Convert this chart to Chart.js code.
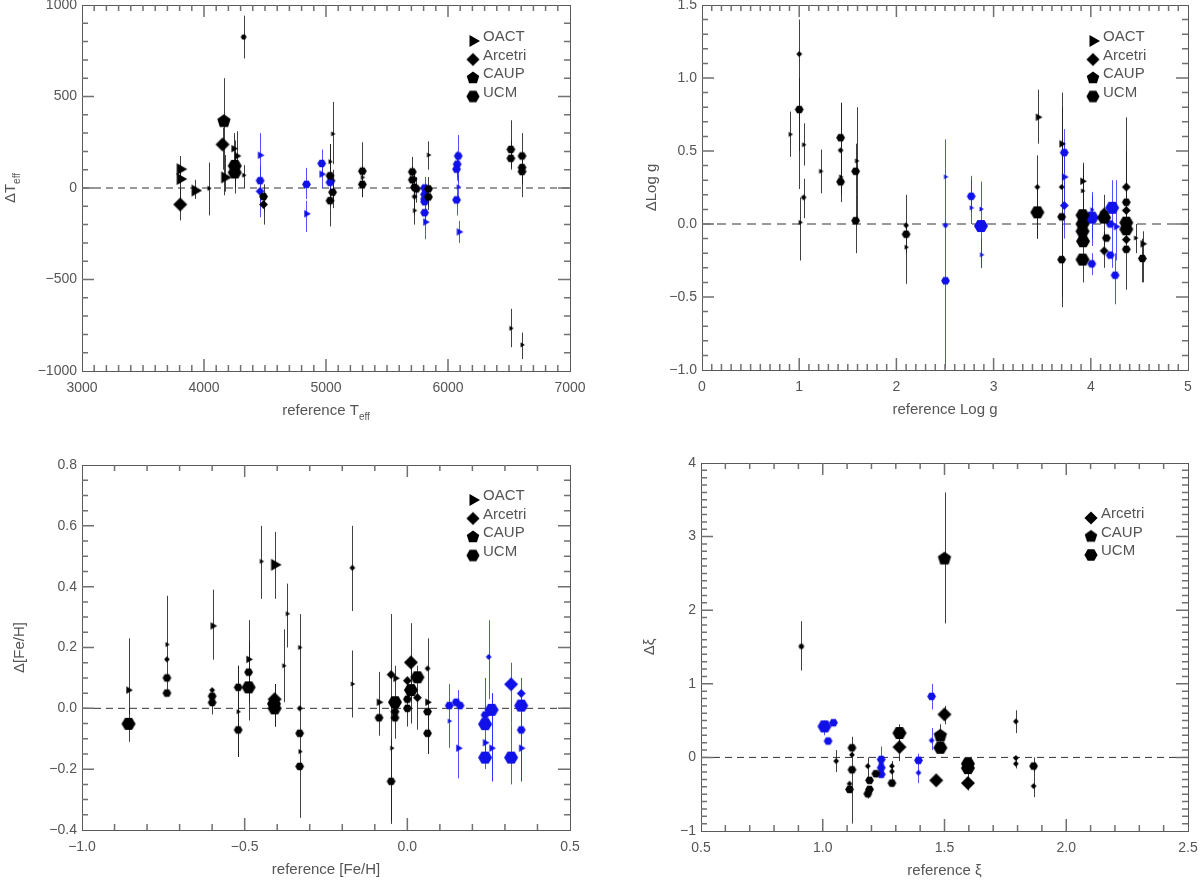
<!DOCTYPE html>
<html>
<head>
<meta charset="utf-8">
<script src="https://cdn.jsdelivr.net/npm/chart.js@4.4.1/dist/chart.umd.min.js"></script>
<style>
  body { margin: 0; background: #fff; }
  .panel { position: absolute; width: 600px; height: 440px; }
</style>
</head>
<body>
<div class="panel" style="left:0;top:0"><canvas id="teff" width="600" height="440"></canvas></div>
<div class="panel" style="left:600px;top:0"><canvas id="logg" width="600" height="440"></canvas></div>
<div class="panel" style="left:0;top:440px"><canvas id="feh" width="600" height="440"></canvas></div>
<div class="panel" style="left:600px;top:440px"><canvas id="vt" width="600" height="440"></canvas></div>
<script>
// rows are [reference value, difference, error bar low, error bar high]
// size arrays: 1 small, 2 medium, 3 large marker

// ---- Teff panel ----
const teffXTicks = [3000, 4000, 5000, 6000, 7000];
const teffXLabels = ['3000', '4000', '5000', '6000', '7000'];
const teffYTicks = [-1000, -500, 0, 500, 1000];
const teffYLabels = ['\u22121000', '\u2212500', '0', '500', '1000'];

const teffOactBlack = [[3805,103,20,175],[3805,49,-60,120],[3927,-14,-60,45],[4040,-2,-150,139],[4170,58,-20,180],
  [4243,215,95,300],[4271,175,60,310],[4325,70,0,125],[5033,144,50,240],[5054,296,130,470],
  [5298,58,-10,120],[5725,-123,-200,-40],[5840,180,100,255],[6515,-767,-870,-660],[6607,-857,-935,-790]];
const teffOactBlackSize = [3,3,3,1,3,2,2,1,1,1,1,1,1,1,1];
const teffOactBlue = [[4460,179,30,300],[4840,-141,-240,-70],[4965,76,0,140],[5815,-186,-280,-100],[6084,7,-50,70],[6090,-240,-300,-180]];
const teffOactBlueSize = [2,2,2,2,1,2];
const teffArcBlack = [[3805,-90,-177,0],[4152,238,100,330],[4488,-90,-200,-30],[5054,40,-60,100],[5725,49,0,100],[5725,-47,-150,0]];
const teffArcBlackSize = [3,3,2,1,1,1];
const teffArcBlue = [[4460,-18,-80,30]];
const teffArcBlueSize = [2];
const teffCaupBlack = [[4163,365,-40,600]];
const teffCaupBlackSize = [3];
const teffUcmBlack = [[4252,121,0,260],[4252,85,-30,200],[4325,825,708,942],[4488,-47,-130,20],[5033,67,-100,240],
  [5033,-69,-210,0],[5054,-23,-110,60],[5298,92,-50,250],[5298,20,-50,80],[5707,88,0,170],[5707,45,-10,120],
  [5725,4,-100,100],[5740,-5,-80,60],[5840,-5,-100,60],[5840,-49,-120,0],[6515,211,110,370],[6515,162,100,260],
  [6607,175,80,300],[6607,112,20,180],[6607,90,-50,150]];
const teffUcmBlackSize = [3,3,1,2,2,2,2,2,2,2,2,2,2,2,2,2,2,2,2,2];
const teffUcmBlue = [[4460,40,-160,120],[4840,20,-60,110],[4965,134,60,210],[5033,31,-30,100],[5808,0,-80,60],
  [5808,-35],[5808,-60],[5808,-75],[5808,-135,-200,-60],[6084,175,30,290],[6075,130,60,200],[6070,103,40,180],[6070,-65,-150,0]];
const teffUcmBlueSize = [2,2,2,2,2,2,2,2,2,2,2,2,2];

// ---- log g panel ----
const loggXTicks = [0, 1, 2, 3, 4, 5];
const loggXLabels = ['0', '1', '2', '3', '4', '5'];
const loggYTicks = [-1, -0.5, 0, 0.5, 1, 1.5];
const loggYLabels = ['\u22121.0', '\u22120.5', '0.0', '0.5', '1.0', '1.5'];

const loggOactBlack = [[0.907,0.614,0.46,0.77],[1.045,0.543,0.40,0.69],[1.01,0.011,-0.25,0.18],[1.22,0.361,0.21,0.51],
  [1.426,0.323,0.15,0.50],[1.59,0.432,0.02,0.80],[2.10,-0.159,-0.41,0.0],[3.457,0.732,0.55,0.92],[3.70,0.549,0.30,0.80],
  [3.915,0.293,0.10,0.42],[3.915,0.227,0.05,0.35],[4.46,-0.096,-0.2,0.0],[4.535,-0.136,-0.4,-0.05]];
const loggOactBlackSize = [1,1,1,1,1,1,1,2,2,2,1,1,2];
const loggOactBlue = [[2.505,0.323,-0.99,0.58],[2.77,0.111,0.0,0.3],[2.87,0.102,-0.3,0.29],[2.875,-0.211,-0.3,-0.1],
  [3.727,0.322,0.1,0.55],[4.01,0.098,-0.15,0.2],[4.26,-0.018,-0.25,0.3]];
const loggOactBlueSize = [1,1,1,1,2,1,2];
const loggArcBlack = [[1.0,1.164,0.24,1.4],[1.045,0.182,0.04,0.31],[1.426,0.505,0.2,0.83],[2.10,-0.009,-0.2,0.2],
  [3.45,0.253,-0.1,0.47],[3.70,0.253,-0.5,0.9],[4.137,0.082,-0.15,0.2],[4.137,-0.184,-0.3,-0.05],
  [4.365,0.253,-0.1,0.5],[4.365,0.093],[4.365,-0.107]];
const loggArcBlackSize = [1,1,1,1,1,1,2,2,2,2,2];
const loggArcBlue = [[2.505,-0.009],[3.727,0.127,-0.1,0.3]];
const loggArcBlueSize = [1,2];
const loggUcmBlack = [[1.0,0.784,0.5,1.0],[1.426,0.591,0.3,0.83],[1.426,0.289],[1.58,0.361,0.2,0.55],[1.58,0.023,-0.2,0.2],
  [2.10,-0.07],[3.45,0.08,-0.1,0.25],[3.70,0.049],[3.70,-0.244,-0.57,0.0],[3.915,0.06],[3.915,0.0],[3.915,-0.05],
  [3.92,-0.118],[3.915,-0.244,-0.4,0.4],[4.137,0.044],[4.16,-0.096],[4.365,0.149],[4.365,0.009],[4.365,-0.036],
  [4.365,-0.173,-0.45,0.73],[4.53,-0.236,-0.4,-0.1]];
const loggUcmBlackSize = [2,2,2,2,2,2,3,2,2,3,3,3,3,3,3,2,2,3,3,2,2];
const loggUcmBlue = [[2.505,-0.389],[2.77,0.19,0.08,0.33],[2.87,-0.014],[3.727,0.489,0.35,0.65],[4.01,0.044,-0.1,0.22],
  [4.01,-0.273,-0.35,-0.2],[4.22,0.111,-0.3,0.3],[4.20,0.0],[4.20,-0.213],[4.25,-0.351,-0.55,-0.2]];
const loggUcmBlueSize = [2,2,3,2,3,2,3,2,2,2];

// ---- [Fe/H] panel ----
const fehXTicks = [-1, -0.5, 0, 0.5];
const fehXLabels = ['\u22121.0', '\u22120.5', '0.0', '0.5'];
const fehYTicks = [-0.4, -0.2, 0, 0.2, 0.4, 0.6, 0.8];
const fehYLabels = ['\u22120.4', '\u22120.2', '0.0', '0.2', '0.4', '0.6', '0.8'];

const fehOactBlack = [[-0.857,0.06,-0.02,0.23],[-0.739,0.21,0.05,0.37],[-0.598,0.271,0.16,0.39],[-0.52,-0.011,-0.16,0.14],
  [-0.488,0.161,0.02,0.29],[-0.449,0.483,0.36,0.60],[-0.408,0.472,0.36,0.58],[-0.369,0.311,0.2,0.41],[-0.38,0.14,0.02,0.26],
  [-0.331,0.20,0.07,0.31],[-0.33,-0.142],[-0.169,0.08,-0.03,0.19],[-0.087,0.02,-0.09,0.12],[-0.036,0.099],[-0.048,-0.131],[0.062,0.02]];
const fehOactBlackSize = [2,1,2,1,2,1,3,1,1,1,1,1,2,2,1,2];
const fehOactBlue = [[0.129,-0.042],[0.157,-0.131,-0.23,0.06],[0.239,-0.113],[0.259,-0.131,-0.24,0.05],[0.35,-0.131,-0.24,0.06]];
const fehOactBlueSize = [1,2,2,2,2];
const fehArcBlack = [[-0.739,0.161],[-0.6,0.06],[-0.408,0.03,-0.06,0.08],[-0.331,0.0,-0.36,0.07],[-0.169,0.462,0.32,0.6],
  [-0.05,0.111,-0.38,0.31],[0.011,0.151,0.03,0.28],[0.0,0.091],[0.031,0.035],[0.062,0.131,-0.15,0.23]];
const fehArcBlackSize = [1,1,3,1,1,2,3,2,2,1];
const fehArcBlue = [[0.25,0.169,0.03,0.29],[0.319,0.079,-0.05,0.15],[0.35,0.049]];
const fehArcBlueSize = [1,3,2];
const fehUcmBlack = [[-0.857,-0.051,-0.11,0.0],[-0.739,0.10],[-0.739,0.05],[-0.6,0.04],[-0.6,0.019,-0.02,0.06],
  [-0.52,0.069,-0.16,0.14],[-0.52,-0.071],[-0.488,0.119],[-0.488,0.069,-0.04,0.22],[-0.408,0.0,-0.06,0.08],[-0.41,0.015],
  [-0.331,-0.082],[-0.331,-0.191],[-0.087,-0.031],[-0.038,0.02,-0.1,0.14],[-0.038,-0.011],[-0.038,-0.031],
  [-0.05,-0.24,-0.37,-0.1],[0.011,0.06,-0.05,0.14],[0.0,0.03],[0.0,0.0,-0.06,0.06],[0.031,0.102,-0.07,0.14],
  [0.062,-0.011],[0.062,-0.082,-0.15,0.0]];
const fehUcmBlackSize = [3,2,2,2,2,2,2,2,3,3,3,2,2,2,3,2,2,2,3,2,2,3,2,2];
const fehUcmBlue = [[0.129,0.009,-0.13,0.08],[0.15,0.02],[0.162,0.009],[0.239,-0.022,-0.18,0.1],[0.239,-0.052],
  [0.239,-0.162,-0.2,-0.1],[0.259,-0.005,-0.24,0.05],[0.319,-0.162,-0.25,-0.05],[0.35,0.009,-0.24,0.1],[0.35,-0.071]];
const fehUcmBlueSize = [2,2,2,2,3,3,3,3,3,2];

// ---- microturbulence panel ----
const vtXTicks = [0.5, 1, 1.5, 2, 2.5];
const vtXLabels = ['0.5', '1.0', '1.5', '2.0', '2.5'];
const vtYTicks = [-1, 0, 1, 2, 3, 4];
const vtYLabels = ['\u22121', '0', '1', '2', '3', '4'];

const vtArcBlack = [[1.055,-0.05,-0.2,0.1],[1.12,0.036],[1.11,-0.358],[1.185,-0.118,-0.3,0.0],[1.284,-0.118],[1.284,-0.19],
  [1.315,0.14,-0.05,0.3],[1.466,-0.312],[1.5,0.584,0.45,0.7],[1.596,-0.349,-0.45,-0.2],[1.793,0.489,0.33,0.64],
  [1.793,-0.009],[1.793,-0.086,-0.15,0],[1.866,-0.39,-0.54,-0.1]];
const vtArcBlackSize = [1,1,1,1,1,1,3,3,3,3,1,1,1,1];
const vtArcBlue = [[1.24,-0.09],[1.393,-0.208,-0.35,-0.05],[1.447,0.231,0.1,0.4]];
const vtArcBlueSize = [1,1,1];
const vtCaupBlack = [[1.5,2.7,1.82,3.6],[1.483,0.294,0.15,0.45]];
const vtCaupBlackSize = [3,3];
const vtUcmBlack = [[0.912,1.508,1.18,1.85],[1.12,0.131,-0.9,0.28],[1.12,-0.168],[1.11,-0.435],[1.192,-0.312],
  [1.192,-0.435],[1.185,-0.494,-0.56,-0.4],[1.218,-0.222],[1.284,-0.349,-0.4,-0.05],[1.315,0.331,0.2,0.45],
  [1.483,0.131],[1.596,-0.086],[1.596,-0.145],[1.866,-0.118,-0.2,0.0]];
const vtUcmBlackSize = [1,2,2,2,2,2,2,2,2,3,3,3,3,2];
const vtUcmBlue = [[1.007,0.421,0.3,0.5],[1.044,0.471],[1.022,0.222],[1.24,-0.027,-0.15,0.15],[1.24,-0.14],[1.24,-0.23],
  [1.393,-0.04,-0.1,0.05],[1.447,0.829,0.65,1.0]];
const vtUcmBlueSize = [3,2,2,2,2,2,2,2];

const BLACK = '#000000';
const BLUE = '#1010e8';
const radius = { 1: 2.9, 2: 4.4, 3: 7 };

// polygon markers drawn once into small canvases
function shapeCanvas(kind, r, color) {
    const c = document.createElement('canvas');
    const s = Math.ceil(2 * r + 2);
    c.width = s; c.height = s;
    const g = c.getContext('2d');
    g.translate(s / 2, s / 2);
    g.fillStyle = color;
    let n = 6, a0 = 0;
    if (kind === 'tri') { n = 3; }
    else if (kind === 'dia') { n = 4; }
    else if (kind === 'pent') { n = 5; a0 = -Math.PI / 2; }
    g.beginPath();
    for (let i = 0; i < n; i++) {
        const a = a0 + i * 2 * Math.PI / n;
        g.lineTo(r * Math.cos(a), r * Math.sin(a));
    }
    g.closePath();
    g.fill();
    return c;
}

const shapeCache = {};
function getShape(kind, r, color) {
    const key = kind + r + color;
    if (!shapeCache[key]) shapeCache[key] = shapeCanvas(kind, r, color);
    return shapeCache[key];
}

function makeDataset(rows, sizes, kind, color) {
    return {
        data: rows.map(r => ({ x: r[0], y: r[1], lo: r[2], hi: r[3] })),
        pointStyle: ctx => getShape(kind, radius[sizes[ctx.dataIndex]] || 3, color),
        pointRadius: 4,
        showLine: false,
        errColor: color === BLUE ? 'rgba(40,40,255,0.8)' : 'rgba(30,30,30,0.85)'
    };
}

function drawText(ctx, parts, x, y, rotate) {
    ctx.save();
    ctx.translate(x, y);
    if (rotate) ctx.rotate(-Math.PI / 2);
    ctx.fillStyle = '#555';
    ctx.textBaseline = 'middle';
    ctx.textAlign = 'left';
    let total = 0;
    parts.forEach(part => {
        ctx.font = (part.sub ? '10px' : '15px') + ' "Liberation Sans", Arial, sans-serif';
        total += ctx.measureText(part.t).width;
    });
    let cx = -total / 2;
    parts.forEach(part => {
        ctx.font = (part.sub ? '10px' : '15px') + ' "Liberation Sans", Arial, sans-serif';
        ctx.fillText(part.t, cx, part.sub ? 6 : 0);
        cx += ctx.measureText(part.t).width;
    });
    ctx.restore();
}

function createPanel(id, p) {
    const ctx = document.getElementById(id).getContext('2d');

    const panelPlugin = {
        id: 'panelDecor',
        beforeDatasetsDraw(chart) {
            const c = chart.ctx, a = chart.chartArea;
            const xs = chart.scales.x, ys = chart.scales.y;
            c.save();
            c.beginPath();
            c.rect(a.left, a.top, a.right - a.left, a.bottom - a.top);
            c.clip();
            // zero line
            const y0 = ys.getPixelForValue(0);
            c.strokeStyle = p.zero.color;
            c.lineWidth = p.zero.width;
            c.setLineDash(p.zero.dash);
            c.beginPath();
            c.moveTo(a.left, y0);
            c.lineTo(a.right, y0);
            c.stroke();
            c.setLineDash([]);
            // error bars
            c.lineWidth = 1;
            chart.data.datasets.forEach(ds => {
                c.strokeStyle = ds.errColor;
                ds.data.forEach(pt => {
                    if (pt.lo === undefined) return;
                    const px = Math.round(xs.getPixelForValue(pt.x)) + 0.5;
                    c.beginPath();
                    c.moveTo(px, ys.getPixelForValue(pt.lo));
                    c.lineTo(px, ys.getPixelForValue(pt.hi));
                    c.stroke();
                });
            });
            c.restore();
        },
        afterDraw(chart) {
            const c = chart.ctx, a = chart.chartArea;
            const xs = chart.scales.x, ys = chart.scales.y;
            c.save();
            c.strokeStyle = '#5a5a5a';
            c.lineWidth = 1;
            c.strokeRect(Math.round(a.left) + 0.5, Math.round(a.top) + 0.5,
                Math.round(a.right - a.left), Math.round(a.bottom - a.top));
            // inward ticks on all four sides
            const isMajor = (v, list) => list.some(t => Math.abs(t - v) < 1e-6);
            c.strokeStyle = '#707070';
            c.lineWidth = 1.5;
            let n = Math.round((p.xMax - p.xMin) / p.xMinor);
            c.beginPath();
            for (let i = 1; i < n; i++) {
                const v = p.xMin + i * p.xMinor;
                const len = isMajor(v, p.xTicks) ? 12 : 6;
                const px = xs.getPixelForValue(v);
                c.moveTo(px, a.bottom); c.lineTo(px, a.bottom - len);
                c.moveTo(px, a.top); c.lineTo(px, a.top + len);
            }
            n = Math.round((p.yMax - p.yMin) / p.yMinor);
            for (let i = 1; i < n; i++) {
                const v = p.yMin + i * p.yMinor;
                const len = isMajor(v, p.yTicks) ? 12 : 6;
                const py = ys.getPixelForValue(v);
                c.moveTo(a.left, py); c.lineTo(a.left + len, py);
                c.moveTo(a.right, py); c.lineTo(a.right - len, py);
            }
            c.stroke();
            // legend
            p.legend.items.forEach((it, i) => {
                const ly = p.legend.y + i * 18.5;
                const img = getShape(it.kind, it.kind === 'tri' ? 7 : 6.6, BLACK);
                c.drawImage(img, p.legend.x - img.width / 2, ly - img.height / 2);
                c.fillStyle = '#555';
                c.font = '15px "Liberation Sans", Arial, sans-serif';
                c.textBaseline = 'middle';
                c.textAlign = 'left';
                c.fillText(it.label, p.legend.x + 10, ly - 4);
            });
            c.restore();
            // axis titles
            drawText(c, p.xTitle, (a.left + a.right) / 2, a.bottom + 40, false);
            drawText(c, p.yTitle, p.yTitleX, (a.top + a.bottom) / 2, true);
        }
    };

    const tickFont = { family: '"Liberation Sans", Arial, sans-serif', size: 14 };

    return new Chart(ctx, {
        type: 'scatter',
        data: { datasets: p.datasets },
        options: {
            responsive: false,
            animation: false,
            events: [],
            layout: { padding: { left: 0, top: p.area.t, right: 600 - p.area.r, bottom: 440 - p.area.b - 50 } },
            plugins: { legend: { display: false }, tooltip: { enabled: false } },
            scales: {
                x: {
                    type: 'linear', min: p.xMin, max: p.xMax,
                    grid: { display: false, drawTicks: false },
                    border: { display: false },
                    ticks: {
                        color: '#555', font: tickFont, padding: 9, autoSkip: false, maxRotation: 0,
                        callback: (v, i) => p.xLabels[i]
                    },
                    afterBuildTicks: s => { s.ticks = p.xTicks.map(v => ({ value: v })); },
                    afterFit: s => { s.height = 50; s.paddingLeft = 0; s.paddingRight = 0; }
                },
                y: {
                    type: 'linear', min: p.yMin, max: p.yMax,
                    grid: { display: false, drawTicks: false },
                    border: { display: false },
                    ticks: {
                        color: '#555', font: tickFont, padding: 5, autoSkip: false,
                        callback: (v, i) => p.yLabels[i]
                    },
                    afterBuildTicks: s => { s.ticks = p.yTicks.map(v => ({ value: v })); },
                    afterFit: s => { s.width = p.area.l; s.paddingTop = 0; s.paddingBottom = 0; }
                }
            }
        },
        plugins: [panelPlugin]
    });
}

const legend4 = [
    { label: 'OACT', kind: 'tri' },
    { label: 'Arcetri', kind: 'dia' },
    { label: 'CAUP', kind: 'pent' },
    { label: 'UCM', kind: 'hex' }
];

createPanel('teff', {
    area: { l: 82, r: 570, t: 4, b: 371 },
    xMin: 3000, xMax: 7000, xMinor: 100, xTicks: teffXTicks, xLabels: teffXLabels,
    yMin: -1000, yMax: 1000, yMinor: 100, yTicks: teffYTicks, yLabels: teffYLabels,
    zero: { color: '#333', width: 1, dash: [7, 5] },
    legend: { x: 473, y: 41, items: legend4 },
    xTitle: [{ t: 'reference T' }, { t: 'eff', sub: true }],
    yTitle: [{ t: '\u0394T' }, { t: 'eff', sub: true }],
    yTitleX: 11,
    datasets: [
        makeDataset(teffUcmBlack, teffUcmBlackSize, 'hex', BLACK),
        makeDataset(teffUcmBlue, teffUcmBlueSize, 'hex', BLUE),
        makeDataset(teffCaupBlack, teffCaupBlackSize, 'pent', BLACK),
        makeDataset(teffArcBlack, teffArcBlackSize, 'dia', BLACK),
        makeDataset(teffArcBlue, teffArcBlueSize, 'dia', BLUE),
        makeDataset(teffOactBlack, teffOactBlackSize, 'tri', BLACK),
        makeDataset(teffOactBlue, teffOactBlueSize, 'tri', BLUE)
    ]
});

createPanel('logg', {
    area: { l: 102, r: 588, t: 3, b: 370 },
    xMin: 0, xMax: 5, xMinor: 0.1, xTicks: loggXTicks, xLabels: loggXLabels,
    yMin: -1, yMax: 1.5, yMinor: 0.1, yTicks: loggYTicks, yLabels: loggYLabels,
    zero: { color: '#999', width: 2, dash: [9, 6] },
    legend: { x: 493, y: 41, items: legend4 },
    xTitle: [{ t: 'reference Log g' }],
    yTitle: [{ t: '\u0394Log g' }],
    yTitleX: 52,
    datasets: [
        makeDataset(loggUcmBlack, loggUcmBlackSize, 'hex', BLACK),
        makeDataset(loggUcmBlue, loggUcmBlueSize, 'hex', BLUE),
        makeDataset(loggArcBlack, loggArcBlackSize, 'dia', BLACK),
        makeDataset(loggArcBlue, loggArcBlueSize, 'dia', BLUE),
        makeDataset(loggOactBlack, loggOactBlackSize, 'tri', BLACK),
        makeDataset(loggOactBlue, loggOactBlueSize, 'tri', BLUE)
    ]
});

createPanel('feh', {
    area: { l: 82, r: 570, t: 25, b: 390 },
    xMin: -1, xMax: 0.5, xMinor: 0.1, xTicks: fehXTicks, xLabels: fehXLabels,
    yMin: -0.4, yMax: 0.8, yMinor: 0.05, yTicks: fehYTicks, yLabels: fehYLabels,
    zero: { color: '#333', width: 1, dash: [7, 5] },
    legend: { x: 473, y: 60, items: legend4 },
    xTitle: [{ t: 'reference [Fe/H]' }],
    yTitle: [{ t: '\u0394[Fe/H]' }],
    yTitleX: 20,
    datasets: [
        makeDataset(fehUcmBlack, fehUcmBlackSize, 'hex', BLACK),
        makeDataset(fehUcmBlue, fehUcmBlueSize, 'hex', BLUE),
        makeDataset(fehArcBlack, fehArcBlackSize, 'dia', BLACK),
        makeDataset(fehArcBlue, fehArcBlueSize, 'dia', BLUE),
        makeDataset(fehOactBlack, fehOactBlackSize, 'tri', BLACK),
        makeDataset(fehOactBlue, fehOactBlueSize, 'tri', BLUE)
    ]
});

createPanel('vt', {
    area: { l: 101, r: 588, t: 23, b: 391 },
    xMin: 0.5, xMax: 2.5, xMinor: 0.1, xTicks: vtXTicks, xLabels: vtXLabels,
    yMin: -1, yMax: 4, yMinor: 0.1, yTicks: vtYTicks, yLabels: vtYLabels,
    zero: { color: '#333', width: 1, dash: [7, 5] },
    legend: { x: 491, y: 78, items: legend4.slice(1) },
    xTitle: [{ t: 'reference \u03be' }],
    yTitle: [{ t: '\u0394\u03be' }],
    yTitleX: 50,
    datasets: [
        makeDataset(vtUcmBlack, vtUcmBlackSize, 'hex', BLACK),
        makeDataset(vtUcmBlue, vtUcmBlueSize, 'hex', BLUE),
        makeDataset(vtCaupBlack, vtCaupBlackSize, 'pent', BLACK),
        makeDataset(vtArcBlack, vtArcBlackSize, 'dia', BLACK),
        makeDataset(vtArcBlue, vtArcBlueSize, 'dia', BLUE)
    ]
});
</script>
</body>
</html>
